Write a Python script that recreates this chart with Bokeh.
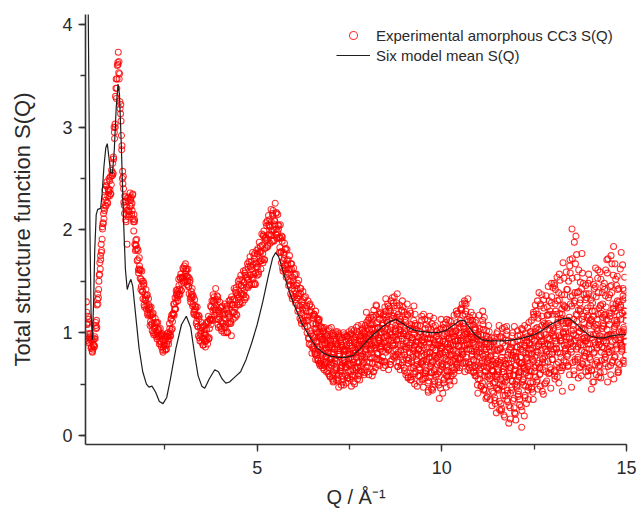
import numpy as np
from bokeh.plotting import figure
from bokeh.models import SingleIntervalTicker, Legend, LegendItem, Range1d, ColumnDataSource
from bokeh.embed import file_html
from bokeh.resources import INLINE

# ---------------- data (S(Q) values x100) ----------------
# experimental series A: Q = 0.375, 0.400, ... (step 0.025)
exp_a_start, exp_a_step = 0.375, 0.025
exp_s_a = [
    130,108,110,90,96,85,93,84,88,87,110,112,132,134,156,162,186,191,207,211,
    239,229,243,226,239,233,252,244,256,255,300,303,338,338,363,353,352,313,292,250,
    252,224,228,208,186,213,232,223,229,215,234,208,208,180,185,170,180,162,161,142,
    160,140,146,125,134,123,137,123,124,107,125,109,115,98,107,98,110,99,101,89,
    104,91,97,81,90,83,96,89,96,89,109,101,114,104,119,117,134,130,138,131,
    152,142,153,141,154,149,165,157,160,147,162,145,149,130,137,126,135,122,123,109,
    125,106,113,92,102,91,106,94,99,86,110,96,110,95,113,108,131,122,130,117,
    143,122,132,105,119,106,125,110,117,100,128,108,122,100,118,109,132,97,127,113,
    143,124,139,117,137,127,152,138,146,129,160,141,156,134,154,144,169,156,164,147,
    178,157,172,147,167,156,182,169,178,162,196,177,194,171,193,183,209,195,204,187,
    220,199,214,189,209,196,217,198,201,178,205,179,189,160,176,161,182,163,167,146,
    175,150,162,133,150,135,157,138,143,121,151,126,138,109,127,111,134,116,121,100,
    131,94,120,88,125,97,84,116,79,108,114,73,101,68,96,105,66,93,71,99,
    62,95,81,104,57,88,71,99,53,84,92,66,101,59,77,86,49,95,70,82,
    74,51,88,97,62,79,99,48,85,71,93,58,81,101,66,89,54,92,77,104,
    93,64,107,78,88,112,59,96,83,104,70,115,91,66,99,110,79,92,120,73,
    104,76,118,91,68,112,97,126,83,101,131,74,95,116,88,107,129,79,99,111,
    113,68,94,125,81,102,59,90,117,73,96,54,108,85,66,99,118,62,80,91,
    95,58,82,112,69,47,91,104,63,79,51,98,116,70,86,44,93,62,107,75,
    88,52,71,103,64,84,41,97,76,110,58,89,67,95,49,82,106,73,60,99,
    101,68,119,87,74,112,95,128,79,104,62,121,90,99,71,115,84,96,66,108,
    95,58,112,79,41,88,104,66,93,51,77,115,62,84,38,96,70,55,89,63,
    72,41,95,58,22,83,64,107,49,31,76,90,55,18,69,98,44,81,60,27,
    66,97,34,81,50,15,74,102,43,62,88,28,71,54,95,37,80,64,105,47,
    88,51,112,74,35,97,66,121,82,45,103,59,128,91,71,40,109,84,62,117,
    72,118,94,46,135,81,104,63,142,89,57,113,97,151,76,123,68,99,137,85,
    96,142,68,115,158,84,201,107,63,131,93,176,74,122,101,149,58,113,88,137,
    103,62,134,89,157,76,112,45,121,98,143,69,108,85,161,57,94,127,73,115,
    92,148,70,125,103,172,81,116,59,139,97,184,76,121,108,155,64,130,90,113,
    86,132,105,154,78,
]
# experimental series B: Q = 0.3875, 0.4125, ... (step 0.025)
exp_b_start, exp_b_step = 0.3875, 0.025
exp_s_b = [
    109,116,92,99,99,86,81,88,94,94,104,127,128,150,168,171,180,201,216,219,
    224,243,227,240,250,239,235,253,265,269,289,330,328,360,373,347,318,306,282,245,
    227,233,210,222,231,219,215,230,232,219,211,215,186,190,191,171,158,165,161,145,
    140,150,127,137,142,126,117,127,125,111,108,118,100,109,114,101,94,103,103,92,
    89,99,83,92,97,87,84,96,100,94,97,113,103,118,128,123,123,137,142,136,
    138,154,141,154,163,154,150,162,162,150,145,153,133,140,143,128,118,126,125,111,
    106,117,95,105,110,95,88,100,103,92,93,111,94,113,126,115,112,131,135,122,
    120,136,108,122,130,111,102,118,121,106,105,124,101,119,131,116,109,127,132,120,
    120,141,118,137,150,135,128,146,151,137,137,158,135,154,167,152,146,165,169,154,
    153,175,148,168,180,164,157,179,184,170,172,195,171,192,207,191,184,205,210,195,
    195,216,190,209,226,201,195,205,204,183,178,194,163,178,187,166,154,170,171,151,
    147,167,136,154,163,141,129,146,148,127,123,143,112,130,140,117,106,124,126,106,
    95,127,102,121,86,114,118,80,109,92,75,112,97,106,70,88,102,64,95,85,
    89,70,102,58,93,76,85,61,97,73,54,88,79,99,63,91,68,52,84,96,
    59,92,69,83,101,55,76,87,64,95,50,83,98,71,60,87,94,67,102,79,
    71,99,82,110,62,94,103,76,89,58,108,85,97,117,74,90,105,68,98,87,
    82,109,95,72,121,86,103,93,124,69,98,114,87,135,102,77,93,118,71,106,
    87,121,74,99,63,110,92,128,70,85,104,57,95,76,112,50,88,103,69,84,
    66,101,77,54,96,85,113,60,72,94,105,57,81,68,99,47,78,90,59,102,
    60,94,79,46,87,69,108,55,91,74,63,100,85,53,111,78,66,96,87,72,
    77,110,92,63,105,83,122,70,97,131,88,76,113,94,107,69,99,82,117,73,
    68,103,81,49,97,117,60,85,73,108,45,91,79,102,57,74,93,48,68,86,
    51,88,34,70,99,46,62,25,85,73,104,39,67,52,93,35,78,12,58,86,
    44,75,59,106,21,68,86,38,57,93,70,8,83,49,65,99,31,76,58,90,
    63,101,79,42,118,92,57,86,131,70,96,48,83,107,64,124,77,98,53,89,
    109,61,87,129,74,102,148,55,92,118,81,139,66,95,112,43,127,88,104,71,
    124,79,109,165,91,47,136,99,188,72,118,154,86,105,129,67,143,94,116,81,
    77,121,95,148,66,109,132,84,52,116,91,163,73,102,139,88,61,119,96,145,
    117,79,161,96,52,134,108,87,146,71,123,98,167,84,112,142,93,69,127,101,
    119,73,141,97,112,
]
# experimental series E: Q = 0.38125, 0.40625, ... (step 0.025)
exp_e_start, exp_e_step = 0.38125, 0.025
exp_s_e = [
    120,99,113,95,93,94,82,93,86,96,107,105,138,142,157,175,178,203,206,221,
    232,223,247,233,237,248,235,258,253,271,295,300,347,347,361,364,325,322,278,257,
    240,216,232,215,219,228,218,236,223,226,235,199,210,185,181,182,161,173,153,152,
    150,133,148,132,131,136,119,133,117,118,117,102,119,104,105,110,96,110,96,97,
    98,86,99,86,88,93,84,99,92,98,104,97,117,111,118,128,123,141,134,140,
    146,137,157,148,153,162,151,167,155,155,154,138,151,135,134,137,120,132,117,117,
    116,97,116,98,99,105,88,107,92,98,103,89,116,104,112,125,113,137,124,129,
    132,113,135,113,115,124,104,126,109,114,118,100,126,109,115,128,111,135,120,127,
    133,115,144,127,134,147,130,156,138,144,149,132,161,144,151,164,147,174,156,162,
    166,147,177,158,164,177,159,188,170,179,185,168,199,182,190,204,185,214,196,203,
    208,189,219,200,205,216,192,215,192,193,192,168,193,170,172,181,157,181,158,161,
    162,138,167,143,146,156,132,157,134,136,138,114,143,119,123,132,109,135,112,115,
    112,89,128,99,80,117,93,104,74,101,86,112,70,95,83,78,101,69,88,76,
    77,98,60,86,69,105,55,81,94,63,90,72,56,97,79,66,88,58,100,73,
    83,66,96,56,75,90,68,103,59,80,74,96,64,88,107,71,83,97,62,89,
    101,76,89,120,67,93,109,84,115,75,97,62,104,88,126,80,95,113,86,100,
    89,117,72,104,133,85,110,64,99,121,92,108,77,126,96,84,115,67,103,127,
    102,78,131,89,66,113,84,97,56,106,81,119,72,93,60,87,107,77,96,58,
    84,107,71,92,55,118,78,63,99,86,44,76,94,61,109,72,88,53,83,97,
    76,99,62,85,113,70,92,51,81,104,69,57,94,78,88,62,101,83,53,92,
    89,118,75,100,66,123,93,81,109,71,99,128,84,64,103,89,112,77,93,62,
    82,110,66,94,55,101,76,48,89,121,67,83,44,97,72,59,86,35,78,64,
    63,92,37,77,55,101,44,69,84,24,62,95,48,73,57,106,33,70,84,41,
    78,53,90,27,64,81,47,97,59,35,76,104,52,68,19,87,61,92,44,80,
    70,96,47,85,120,62,101,78,54,114,89,66,98,137,75,92,50,106,81,125,
    88,131,66,107,79,144,95,58,121,84,110,71,132,92,63,118,100,153,82,109,
    111,67,150,94,128,81,172,103,59,139,97,117,76,161,90,132,104,70,148,95,
    92,138,70,117,84,151,98,63,129,80,106,145,59,113,91,124,68,152,86,107,
    106,74,136,90,158,67,119,98,175,83,128,55,112,93,146,71,124,101,162,88,
    99,143,70,121,92,
]
# experimental series C (noisy high-Q part): Q = 6.506, 6.531, ... (step 0.025)
exp_c_start, exp_c_step = 6.506, 0.025
exp_s_c = [
    109,87,95,121,78,100,84,113,72,93,81,104,68,90,77,97,63,85,74,92,
    68,97,52,84,75,101,60,89,47,79,93,66,86,55,98,71,82,58,94,69,
    87,63,99,74,52,91,80,105,67,85,58,96,77,108,70,89,61,102,84,95,
    79,114,92,65,103,87,122,76,98,109,69,95,118,84,101,72,113,90,125,81,
    97,128,84,113,72,105,134,90,119,78,101,126,67,94,115,83,108,71,99,120,
    86,112,61,97,75,121,90,54,103,83,68,109,92,48,79,101,64,88,116,72,
    73,95,56,108,81,42,90,67,103,61,85,114,50,77,96,69,88,36,82,104,
    67,92,54,99,78,113,63,86,104,71,95,58,88,117,75,102,66,93,81,109,
    92,124,79,106,87,118,70,99,133,84,101,63,95,112,74,89,105,58,83,96,
    81,55,98,70,112,44,86,63,94,37,76,101,58,82,29,69,91,52,74,46,
    59,83,33,71,96,48,65,20,87,57,102,41,74,63,16,90,53,78,36,68,
    77,49,92,61,30,84,70,103,55,88,39,75,96,67,110,58,83,45,99,72,
    93,127,68,105,81,139,60,97,116,74,132,89,51,108,95,145,79,121,64,100,
    118,84,146,97,69,131,106,157,80,114,92,168,73,125,101,142,88,110,59,135,
    102,153,87,129,74,194,111,95,140,66,123,83,158,104,77,132,92,115,58,138,
    89,126,64,110,147,81,99,135,71,118,93,159,56,104,128,85,142,76,113,97,
    112,81,145,98,167,73,124,106,152,88,131,62,117,95,178,84,136,103,121,91,
]
# experimental series D (noisy high-Q part): Q = 6.5185, 6.5435, ... (step 0.025)
exp_d_start, exp_d_step = 6.5185, 0.025
exp_s_d = [
    96,118,82,104,91,73,110,86,99,68,94,79,105,83,71,92,80,66,88,75,
    81,59,92,70,99,64,86,53,77,95,62,88,73,49,84,67,97,56,79,90,
    70,93,57,83,102,66,89,76,55,98,81,63,92,74,100,59,86,95,71,104,
    96,71,108,85,117,62,99,90,127,80,105,74,93,119,86,107,66,101,115,92,
    110,83,121,69,98,117,88,129,76,104,93,138,81,111,64,97,122,87,106,78,
    99,74,118,57,88,104,66,95,79,126,60,91,73,107,84,52,98,70,93,61,
    88,61,99,74,112,53,80,95,45,71,106,64,89,57,101,78,49,92,68,85,
    80,105,61,89,47,97,73,112,84,58,99,79,106,64,92,121,70,87,98,76,
    105,82,117,93,129,72,101,88,111,66,96,120,79,90,61,103,86,72,98,68,
    64,92,48,79,103,58,71,36,89,66,107,50,77,95,43,62,84,31,70,57,
    72,45,96,55,26,81,62,105,39,70,54,92,29,66,83,47,100,58,22,76,
    53,86,40,71,98,62,24,81,66,107,48,90,73,35,84,101,62,94,52,115,
    76,104,52,118,87,66,126,92,43,111,99,71,136,82,117,60,103,88,148,74,
    97,62,128,85,154,108,51,119,93,137,66,101,126,84,159,77,112,95,171,90,
    126,71,113,92,167,84,139,56,101,121,88,177,69,110,95,146,80,124,63,107,
    74,113,95,136,52,121,88,104,153,67,97,126,81,139,109,62,118,92,171,84,
    98,137,68,119,91,156,104,77,128,110,61,143,93,125,82,166,101,72,134,117,
]

# six model mean S(Q)
model_q = [0.40, 0.42, 0.45, 0.47, 0.50, 0.535, 0.57, 0.60, 0.64, 0.68, 0.76, 0.80,
           0.85, 0.90, 0.94, 0.98, 1.03, 1.08, 1.13, 1.18, 1.23, 1.27, 1.32, 1.38,
           1.43, 1.48, 1.53, 1.58, 1.63, 1.70, 1.80, 1.90, 2.00, 2.07, 2.15, 2.25,
           2.35, 2.45, 2.55, 2.65, 2.80, 2.95, 3.08, 3.20, 3.30, 3.40, 3.50, 3.58,
           3.70, 3.85, 3.95, 4.05, 4.15, 4.25, 4.40, 4.55, 4.70, 4.85, 5.00, 5.15,
           5.30, 5.42, 5.50, 5.58, 5.70, 5.85, 6.00, 6.20, 6.40, 6.60, 6.80, 7.00,
           7.20, 7.40, 7.60, 7.80, 8.00, 8.20, 8.40, 8.60, 8.75, 8.90, 9.10, 9.30,
           9.50, 9.70, 9.90, 10.10, 10.30, 10.50, 10.60, 10.75, 10.90, 11.10, 11.30,
           11.50, 11.70, 11.90, 12.10, 12.30, 12.50, 12.70, 12.90, 13.10, 13.30,
           13.45, 13.60, 13.80, 14.00, 14.20, 14.40, 14.60, 14.80, 15.00]
model_s = [5.20, 4.30, 3.00, 2.00, 1.20, 0.93, 1.30, 1.80, 2.15, 2.20, 2.21, 2.35,
           2.62, 2.80, 2.84, 2.72, 2.56, 2.55, 2.78, 3.18, 3.42, 3.32, 2.82, 2.10,
           1.62, 1.42, 1.48, 1.52, 1.45, 1.20, 0.85, 0.62, 0.50, 0.47, 0.48, 0.42,
           0.33, 0.31, 0.37, 0.55, 0.85, 1.08, 1.16, 1.05, 0.80, 0.58, 0.48, 0.46,
           0.55, 0.64, 0.62, 0.55, 0.51, 0.52, 0.57, 0.62, 0.74, 0.90, 1.08, 1.30,
           1.55, 1.73, 1.78, 1.74, 1.60, 1.42, 1.27, 1.10, 0.97, 0.86, 0.80, 0.77,
           0.76, 0.76, 0.78, 0.85, 0.93, 1.00, 1.06, 1.11, 1.13, 1.10, 1.05, 1.02,
           1.01, 1.00, 1.00, 1.02, 1.07, 1.12, 1.12, 1.05, 0.98, 0.93, 0.92,
           0.92, 0.92, 0.93, 0.94, 0.96, 0.98, 1.02, 1.07, 1.11, 1.14,
           1.14, 1.10, 1.03, 0.97, 0.95, 0.95, 0.97, 0.98, 0.98]

x_ticks_interval, y_ticks_interval = 5, 1
x_label = "Q / \u00c5\u207b\u00b9"
y_label = "Total structure function S(Q)"
legend_labels = ["Experimental amorphous CC3 S(Q)", "Six model mean S(Q)"]

# ---------------- build ----------------
def grid(start, step, n):
    return [round(start + step * i, 5) for i in range(n)]

exp_q = (grid(exp_a_start, exp_a_step, len(exp_s_a)) +
         grid(exp_b_start, exp_b_step, len(exp_s_b)) +
         grid(exp_e_start, exp_e_step, len(exp_s_e)) +
         grid(exp_c_start, exp_c_step, len(exp_s_c)) +
         grid(exp_d_start, exp_d_step, len(exp_s_d)))
exp_s = [v / 100.0 for v in (exp_s_a + exp_s_b + exp_s_e + exp_s_c + exp_s_d)]

FONT = "Liberation Sans"
TXT = "#2a2a2a"

p = figure(width=637, height=517, output_backend="svg", toolbar_location=None,
           x_range=Range1d(0.35, 15.0), y_range=Range1d(-0.088, 4.097),
           min_border_left=85, min_border_right=11, min_border_top=14, min_border_bottom=73,
           background_fill_color="white", border_fill_color="white")
p.outline_line_color = None
p.grid.visible = False

src_exp = ColumnDataSource(dict(q=exp_q, s=exp_s))
r_exp = p.scatter("q", "s", source=src_exp, marker="circle", size=6,
                  fill_color=None, line_color="#ff0000", line_width=1.05, line_alpha=0.8)
src_mod = ColumnDataSource(dict(q=model_q, s=model_s))
r_mod = p.line("q", "s", source=src_mod, line_color="#1e1e1e", line_width=1.2)

p.xaxis.ticker = SingleIntervalTicker(interval=x_ticks_interval, num_minor_ticks=2)
p.yaxis.ticker = SingleIntervalTicker(interval=y_ticks_interval, num_minor_ticks=2)
for ax in (p.xaxis[0], p.yaxis[0]):
    ax.axis_line_color = "#333333"
    ax.axis_line_width = 1.6
    ax.major_tick_line_color = "#333333"
    ax.minor_tick_line_color = "#333333"
    ax.major_tick_line_width = 1.3
    ax.minor_tick_line_width = 1.3
    ax.major_tick_in = 0
    ax.major_tick_out = 7
    ax.minor_tick_in = 0
    ax.minor_tick_out = 5
    ax.major_label_text_font = FONT
    ax.major_label_text_font_size = "18px"
    ax.major_label_text_color = TXT
    ax.axis_label_text_font = FONT
    ax.axis_label_text_font_style = "normal"
    ax.axis_label_text_color = TXT
p.xaxis.axis_label = x_label
p.yaxis.axis_label = y_label
p.xaxis.axis_label_text_font_size = "20px"
p.yaxis.axis_label_text_font_size = "22px"
p.xaxis.major_label_standoff = 9
p.xaxis.axis_label_standoff = 9
p.yaxis.major_label_standoff = 6
p.yaxis.axis_label_standoff = 24

legend = Legend(items=[LegendItem(label=legend_labels[0], renderers=[r_exp]),
                       LegendItem(label=legend_labels[1], renderers=[r_mod])],
                location=(246, 374), padding=5, margin=0, spacing=0,
                glyph_width=34, glyph_height=20, label_height=20, label_standoff=6,
                label_text_font=FONT, label_text_font_size="15px", label_text_color=TXT,
                border_line_alpha=0, background_fill_alpha=0)
p.add_layout(legend)

open("out.html", "w").write(file_html(p, INLINE))
